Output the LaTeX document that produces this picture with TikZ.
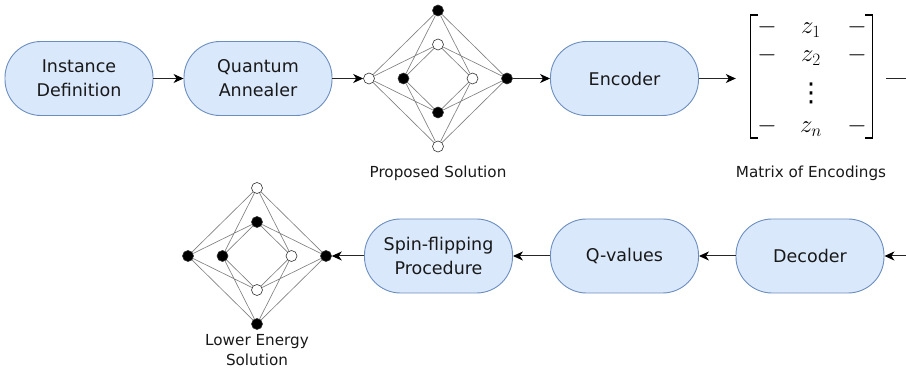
\documentclass[tikz,border=0pt]{standalone}
\usepackage{fontspec}
\setmainfont{DejaVu Sans}
\usetikzlibrary{arrows.meta}
\definecolor{boxfill}{HTML}{DAE8FC}
\definecolor{boxdraw}{HTML}{6C8EBF}
\definecolor{edgegray}{HTML}{808080}
\newcommand\spingraph[9]{%
  \node[#2] (#1L) at (-69,0) {};
  \node[#3] (#1T) at (0,-68) {};
  \node[#4] (#1R) at (69,0) {};
  \node[#5] (#1B) at (0,68) {};
  \node[#6] (#1l) at (-34.5,0) {};
  \node[#7] (#1t) at (0,-34) {};
  \node[#8] (#1r) at (34.5,0) {};
  \node[#9] (#1b) at (0,34) {};
  \draw[link] (#1L)--(#1T) (#1T)--(#1R) (#1R)--(#1B) (#1B)--(#1L)
    (#1l)--(#1t) (#1t)--(#1r) (#1r)--(#1b) (#1b)--(#1l)
    (#1L)--(#1t) (#1L)--(#1b) (#1T)--(#1l) (#1T)--(#1r)
    (#1R)--(#1t) (#1R)--(#1b) (#1B)--(#1l) (#1B)--(#1r);
}
\begin{document}
\begin{tikzpicture}[x=1pt,y=-1pt,
  stage/.style={draw=boxdraw, fill=boxfill, line width=0.9pt, rounded corners=36pt,
    minimum width=148pt, minimum height=74pt, align=center,
    font=\fontsize{17.5}{24}\selectfont, text=black!90, inner sep=0pt},
  spin/.style={circle, draw=black!80, line width=0.6pt, minimum size=11pt, inner sep=0pt},
  up/.style={spin, fill=black},
  dn/.style={spin, fill=white},
  link/.style={draw=edgegray, line width=0.65pt},
  flow/.style={draw=black!85, line width=1pt, -{Stealth[length=10pt,width=9pt,inset=3pt,color=black]}},
  plain/.style={draw=black!85, line width=1pt},
  caption/.style={font=\fontsize{15.2}{20}\selectfont, align=center, text=black!90},
  entry/.style={anchor=base, font=\fontsize{24}{28}\selectfont, inner sep=0pt}]
\useasboundingbox (0,0) rectangle (906,371);

% top row
\node[stage] (inst) at (79,78.5) {Instance\\Definition};
\node[stage] (qa) at (258,78.5) {Quantum\\Annealer};
\node[stage] (enc) at (624.5,78.5) {Encoder};

\begin{scope}[shift={(438,78.5)}]
  \spingraph{g}{dn}{up}{up}{dn}{up}{dn}{dn}{up}
\end{scope}
\node[caption] (cap1) at (438,173) {Proposed Solution};

% matrix of encodings
\node[minimum width=150pt, minimum height=124pt, inner sep=0pt] (mat) at (811,78.5) {};
\draw[line width=1.2pt] (758,15) -- (750.5,15) -- (750.5,138) -- (758,138);
\draw[line width=1.2pt] (865,15) -- (872.5,15) -- (872.5,138) -- (865,138);
\node[entry] (m11) at (767,34) {$-$};
\node[entry] (m12) at (811,34) {$z_1$};
\node[entry] (m13) at (857,34) {$-$};
\node[entry] (m21) at (767,62) {$-$};
\node[entry] (m22) at (811,62) {$z_2$};
\node[entry] (m23) at (857,62) {$-$};
\node[inner sep=0pt, font=\fontsize{26}{28}\selectfont] (m32) at (811,93) {⋮};
\node[entry] (m41) at (767,133) {$-$};
\node[entry] (m42) at (811,133) {$z_n$};
\node[entry] (m43) at (857,133) {$-$};
\node[caption] (cap2) at (811,173) {Matrix of Encodings};

% bottom row
\node[stage] (spinproc) at (438.5,256) {Spin-flipping\\Procedure};
\node[stage] (qv) at (624.5,256) {Q-values};
\node[stage] (dec) at (810,256) {Decoder};

\begin{scope}[shift={(257,256)}]
  \spingraph{h}{up}{dn}{up}{up}{up}{up}{dn}{dn}
\end{scope}
\node[caption] (cap3) at (257,350) {Lower Energy\\Solution};

\coordinate (outR) at (912,78.5);
\coordinate (inR) at (912,256);

% connectors
\draw[flow] (inst) -- (qa);
\draw[flow] (qa.east) -- (gL);
\draw[flow] (gR) -- (enc.west);
\draw[flow] (enc.east) -- (mat.west);
\draw[plain] (mat.east) -- (outR);
\draw[flow] (inR) -- (dec.east);
\draw[flow] (dec.west) -- (qv.east);
\draw[flow] (qv.west) -- (spinproc.east);
\draw[flow] (spinproc.west) -- (hR);
\end{tikzpicture}
\end{document}
